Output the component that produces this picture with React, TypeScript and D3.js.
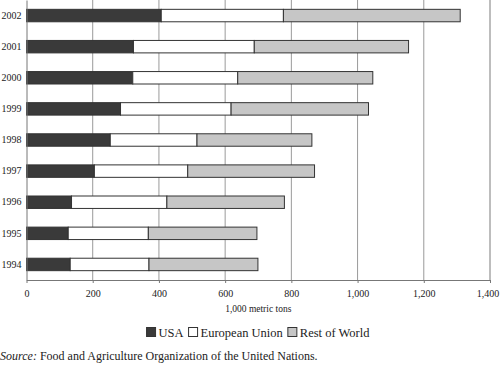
import * as d3 from "d3";
import {useEffect, useRef} from "react";

const years = ["2002", "2001", "2000", "1999", "1998", "1997", "1996", "1995", "1994"];
const usa = [407, 323, 321, 284, 253, 205, 136, 126, 132];
const eu = [369, 365, 317, 334, 262, 282, 288, 242, 238];
const restOfWorld = [534, 466, 408, 415, 347, 383, 355, 328, 329];
const seriesNames = ["USA", "European Union", "Rest of World"];
const xTicks = [0, 200, 400, 600, 800, 1000, 1200, 1400];

const colors = ["#3a3a3a", "#ffffff", "#c6c6c6"];
const serif = "Liberation Serif";

export default function App() {
    const chartRef = useRef<SVGSVGElement | null>(null);

    const baseWidth = 500;
    const baseHeight = 365;
    const margin = {top: 0, right: 10, bottom: 85, left: 26.5};
    const width = 490 - margin.left;
    const height = 280;

    useEffect(() => {
        if (!chartRef.current) return;
        const root = d3.select(chartRef.current);
        root.selectAll("*").remove();

        const svg = root.append("g")
            .attr("transform", `translate(${margin.left},${margin.top})`);

        const xScale = d3.scaleLinear().domain([0, 1400]).range([0, width]);
        const yScale = d3.scaleBand()
            .domain(years)
            .range([0, height])
            .paddingInner(0.6)
            .paddingOuter(0.3);

        // grid
        svg.append("g")
            .selectAll("line")
            .data(xTicks.filter(t => t > 0 && t < 1400))
            .join("line")
            .attr("x1", d => xScale(d))
            .attr("x2", d => xScale(d))
            .attr("y1", 0)
            .attr("y2", height)
            .attr("stroke", "#9a9a9a")
            .attr("stroke-width", 1);

        // right border
        svg.append("line")
            .attr("x1", xScale(1400))
            .attr("x2", xScale(1400))
            .attr("y1", 0)
            .attr("y2", height)
            .attr("stroke", "#bdbdbd")
            .attr("stroke-width", 2);

        const rows = years.map((y, i) => ({year: y, values: [usa[i], eu[i], restOfWorld[i]]}));
        const stacked = d3.stack<any>()
            .keys([0, 1, 2] as any)
            .value((d: any, k: any) => d.values[k])(rows as any);

        stacked.forEach((layer, si) => {
            svg.append("g")
                .selectAll("rect")
                .data(layer)
                .join("rect")
                .attr("x", d => xScale(d[0]))
                .attr("y", d => yScale((d.data as any).year)!)
                .attr("width", d => xScale(d[1]) - xScale(d[0]))
                .attr("height", yScale.bandwidth())
                .attr("fill", colors[si])
                .attr("stroke", "#333")
                .attr("stroke-width", 1);
        });

        // x axis
        const xAxis = svg.append("g")
            .attr("transform", `translate(0,${height})`)
            .call(d3.axisBottom(xScale).tickValues(xTicks).tickSize(3).tickSizeOuter(0)
                .tickFormat(d => d3.format(",")(d as number)));
        xAxis.attr("font-family", serif).attr("font-size", 10);
        xAxis.select(".domain").attr("stroke", "#777");
        xAxis.selectAll(".tick line").attr("stroke", "#777");
        xAxis.selectAll("text")
            .attr("fill", "#222")
            .attr("dy", "1.1em");
        // keep the last label inside the page edge
        xAxis.selectAll<SVGTextElement, number>("text")
            .filter(d => d === 1400)
            .attr("x", -2.5);

        // y axis
        const yAxis = svg.append("g")
            .call(d3.axisLeft(yScale).tickSize(0).tickPadding(5));
        yAxis.attr("font-family", serif).attr("font-size", 10);
        yAxis.select(".domain").attr("stroke", "#777");
        yAxis.selectAll("text").attr("fill", "#222");

        svg.append("text")
            .attr("x", width / 2)
            .attr("y", 312)
            .attr("text-anchor", "middle")
            .attr("font-family", serif)
            .attr("font-size", 9.5)
            .attr("fill", "#222")
            .text("1,000 metric tons");

        // legend, laid out from measured text widths, centred
        const legend = root.append("g");
        let cursor = 0;
        seriesNames.forEach((name, i) => {
            legend.append("rect")
                .attr("x", cursor)
                .attr("y", 327.5)
                .attr("width", 9)
                .attr("height", 9)
                .attr("fill", colors[i])
                .attr("stroke", "#333");
            const t = legend.append("text")
                .attr("x", cursor + 12)
                .attr("y", 337)
                .attr("font-family", serif)
                .attr("font-size", 12.5)
                .attr("fill", "#222")
                .text(name);
            const w = (t.node() as SVGTextElement).getComputedTextLength();
            cursor += 12 + w + 5;
        });
        const legendWidth = cursor - 5;
        legend.attr("transform", `translate(${258 - legendWidth / 2},0)`);

        const source = root.append("text")
            .attr("x", 0)
            .attr("y", 360)
            .attr("font-family", serif)
            .attr("font-size", 12)
            .attr("fill", "#222");
        source.append("tspan").attr("font-style", "italic").text("Source:");
        source.append("tspan").text(" Food and Agriculture Organization of the United Nations.");
    }, []);

    return (
        <svg ref={chartRef} width={baseWidth} height={baseHeight}
             style={{position: "absolute", left: 0, top: 0, background: "#fff"}}/>
    );
}
